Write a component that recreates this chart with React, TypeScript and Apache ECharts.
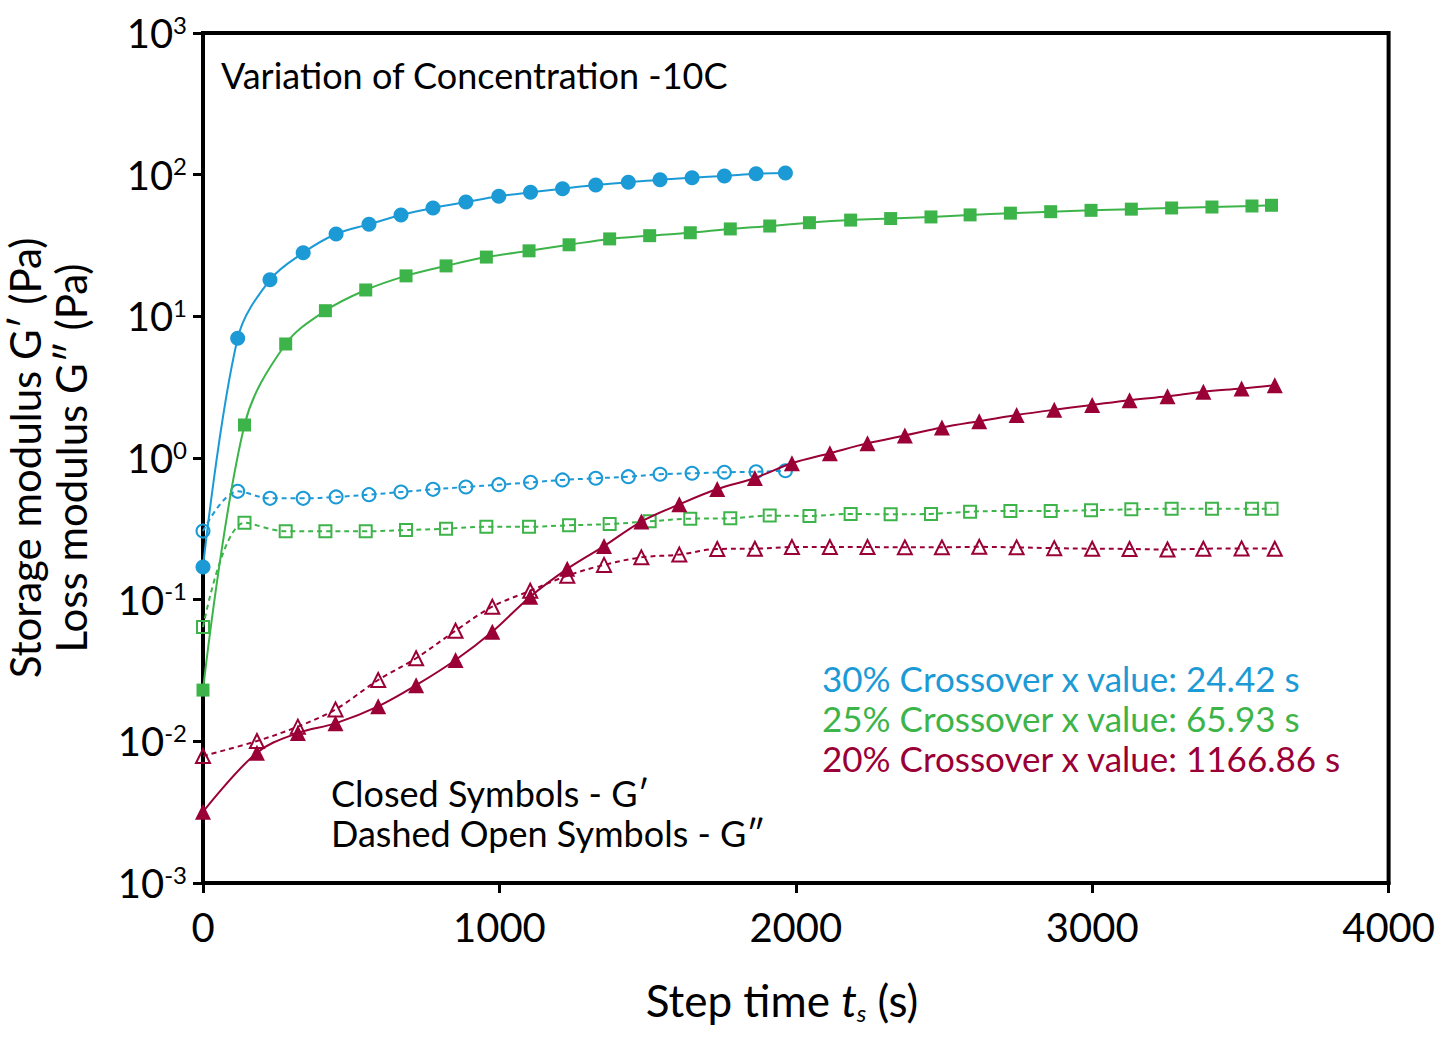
import { useEffect, useRef } from "react";
import * as echarts from "echarts";

const FONT = "Lato, 'DejaVu Sans', sans-serif";
const BLUE = "#1b9ad6";
const GREEN = "#3db449";
const RED = "#9a0036";

// 30 % sample
const time30 = [0, 117, 226, 338, 449, 560, 668, 776, 887, 998, 1105, 1213, 1325, 1435, 1542, 1650, 1759, 1866, 1965];
const gp30 = [0.17, 7.0, 18.1, 28.1, 38.1, 44.6, 51.9, 58.2, 64.1, 70.4, 75.1, 79.6, 84.6, 88.3, 92.2, 95.2, 97.9, 101.5, 102.7];
const gpp30 = [0.305, 0.582, 0.519, 0.519, 0.531, 0.551, 0.575, 0.601, 0.624, 0.648, 0.673, 0.7, 0.719, 0.738, 0.768, 0.78, 0.793, 0.8, 0.813];

// 25 % sample
const time25 = [0, 140, 279, 413, 549, 685, 820, 956, 1100, 1235, 1372, 1507, 1644, 1779, 1912, 2046, 2185, 2320, 2456, 2588, 2724, 2860, 2996, 3132, 3268, 3404, 3539, 3605];
const gp25 = [0.023, 1.71, 6.38, 10.96, 15.35, 19.3, 22.7, 26.2, 29.0, 32.0, 35.2, 37.1, 38.9, 41.4, 43.4, 45.8, 47.8, 49.0, 50.3, 52.0, 53.5, 54.8, 56.0, 57.1, 58.2, 59.1, 60.1, 60.8];
const gpp25 = [0.064, 0.349, 0.304, 0.304, 0.304, 0.31, 0.317, 0.327, 0.327, 0.335, 0.342, 0.357, 0.373, 0.375, 0.392, 0.39, 0.403, 0.4, 0.403, 0.418, 0.423, 0.423, 0.428, 0.434, 0.439, 0.439, 0.439, 0.439];

// 20 % sample
const time20 = [0, 182, 320, 447, 591, 719, 852, 976, 1104, 1229, 1353, 1479, 1607, 1735, 1862, 1987, 2115, 2242, 2368, 2493, 2619, 2745, 2872, 3000, 3126, 3254, 3375, 3504, 3616];
const gp20 = [0.00318, 0.00832, 0.01145, 0.0134, 0.01767, 0.0249, 0.0375, 0.0594, 0.105, 0.165, 0.239, 0.356, 0.471, 0.604, 0.723, 0.918, 1.08, 1.27, 1.44, 1.64, 1.82, 2.01, 2.19, 2.37, 2.56, 2.73, 2.94, 3.09, 3.26];
const gpp20 = [0.00788, 0.01005, 0.0127, 0.0168, 0.0271, 0.0386, 0.0604, 0.0892, 0.1156, 0.1476, 0.176, 0.199, 0.208, 0.228, 0.229, 0.235, 0.235, 0.235, 0.234, 0.234, 0.236, 0.234, 0.231, 0.229, 0.228, 0.226, 0.229, 0.23, 0.229];

const xTicks = [0, 1000, 2000, 3000, 4000];
const crossoverLines = [
    { text: "30% Crossover x value: 24.42 s", color: BLUE },
    { text: "25% Crossover x value: 65.93 s", color: GREEN },
    { text: "20% Crossover x value: 1166.86 s", color: RED }
];

function pairs(t: number[], v: number[]) {
    return t.map((x, i) => [x, v[i]]);
}

function closedSeries(name: string, color: string, symbol: string, size: number, t: number[], v: number[]) {
    return {
        name,
        type: "line",
        data: pairs(t, v),
        smooth: 0.35,
        symbol,
        symbolSize: size,
        lineStyle: { color, width: 2 },
        itemStyle: { color },
        z: 4
    };
}

function openSeries(name: string, color: string, symbol: string, size: number, t: number[], v: number[]) {
    return {
        name,
        type: "line",
        data: pairs(t, v),
        smooth: 0.35,
        symbol,
        symbolSize: size,
        lineStyle: { color, width: 2, type: [5, 4] },
        itemStyle: { color: "rgba(255,255,255,0)", borderColor: color, borderWidth: 2 },
        z: 3
    };
}

export default function App() {
    const ref = useRef<HTMLDivElement>(null);

    useEffect(() => {
        if (!ref.current) return;
        const chart = echarts.init(ref.current, undefined, { renderer: "svg" });
        chart.setOption({
            animation: false,
            backgroundColor: "#fff",
            textStyle: { fontFamily: FONT },
            grid: { left: 203, right: 48, top: 33, bottom: 159, show: true, borderColor: "#000", borderWidth: 4 },
            xAxis: {
                type: "value",
                min: xTicks[0],
                max: xTicks[xTicks.length - 1],
                interval: 1000,
                axisLine: { show: true, lineStyle: { color: "#000", width: 4 } },
                axisTick: { show: true, inside: false, length: 10, lineStyle: { color: "#000", width: 3 } },
                splitLine: { show: false },
                axisLabel: { color: "#000", fontSize: 40, fontFamily: FONT, margin: 24, formatter: (v: number) => String(v) }
            },
            yAxis: {
                type: "log",
                logBase: 10,
                min: 0.001,
                max: 1000,
                splitNumber: 6,
                axisLine: { show: true, lineStyle: { color: "#000", width: 4 } },
                axisTick: { show: true, inside: false, length: 10, lineStyle: { color: "#000", width: 3 } },
                minorTick: { show: false },
                splitLine: { show: false },
                axisLabel: {
                    margin: 16,
                    formatter: (v: number) => `{b|10}{s|${Math.round(Math.log10(v))}}`,
                    rich: {
                        b: { fontSize: 40, fontFamily: FONT, color: "#000", lineHeight: 42 },
                        s: { fontSize: 24, fontFamily: FONT, color: "#000", verticalAlign: "top", lineHeight: 24 }
                    }
                }
            },
            graphic: [
                {
                    type: "text",
                    x: 48,
                    y: 458,
                    rotation: Math.PI / 2,
                    style: {
                        text: "Storage modulus G\u2032 (Pa)\nLoss modulus G\u2033 (Pa)",
                        fontSize: 42,
                        lineHeight: 46,
                        fontFamily: FONT,
                        fill: "#000",
                        align: "center",
                        verticalAlign: "middle"
                    }
                },
                {
                    type: "text",
                    x: 782,
                    y: 1000,
                    style: {
                        text: "{n|Step time }{i|t}{sub|s}{n| (s)}",
                        align: "center",
                        verticalAlign: "middle",
                        rich: {
                            n: { fontSize: 44, fontFamily: FONT, fill: "#000", lineHeight: 48 },
                            i: { fontSize: 44, fontFamily: FONT, fontStyle: "italic", fill: "#000", lineHeight: 48 },
                            sub: { fontSize: 24, fontFamily: FONT, fontStyle: "italic", fill: "#000", verticalAlign: "bottom", lineHeight: 24 }
                        }
                    }
                },
                {
                    type: "text",
                    x: 221,
                    y: 75,
                    style: { text: "Variation of Concentration -10C", fontSize: 36, fontFamily: FONT, fill: "#000", verticalAlign: "middle" }
                },
                ...crossoverLines.map((c, i) => ({
                    type: "text",
                    x: 822,
                    y: 678 + i * 40,
                    style: { text: c.text, fontSize: 35, fontFamily: FONT, fill: c.color, verticalAlign: "middle" }
                })),
                {
                    type: "text",
                    x: 331,
                    y: 813,
                    style: {
                        text: "Closed Symbols - G\u2032\nDashed Open Symbols - G\u2033",
                        fontSize: 36,
                        lineHeight: 40,
                        fontFamily: FONT,
                        fill: "#000",
                        verticalAlign: "middle"
                    }
                }
            ],
            series: [
                closedSeries("G' 30%", BLUE, "circle", 15, time30, gp30),
                openSeries("G'' 30%", BLUE, "circle", 13, time30, gpp30),
                closedSeries("G' 25%", GREEN, "rect", 13, time25, gp25),
                openSeries("G'' 25%", GREEN, "rect", 12, time25, gpp25),
                closedSeries("G' 20%", RED, "triangle", 16, time20, gp20),
                openSeries("G'' 20%", RED, "triangle", 14, time20, gpp20)
            ]
        });
        return () => chart.dispose();
    }, []);

    return <div ref={ref} style={{ position: "fixed", left: 0, top: 0, width: 1438, height: 1042 }} />;
}
